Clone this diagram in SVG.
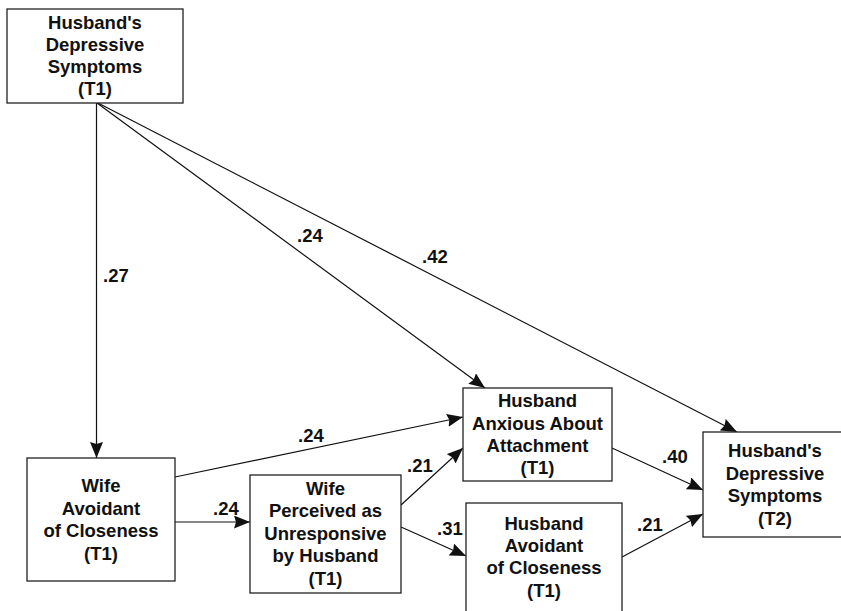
<svg xmlns="http://www.w3.org/2000/svg" width="841" height="611" viewBox="0 0 841 611">
<style>
.box{fill:#fff;stroke:#222;stroke-width:1.3}
.t{font-family:"Liberation Sans",Arial,sans-serif;font-weight:bold;font-size:18.5px;fill:#111;text-anchor:middle}
.lbl{font-family:"Liberation Sans",Arial,sans-serif;font-weight:bold;font-size:18.5px;fill:#111}
.c{stroke:#111;stroke-width:1.2;fill:none;marker-end:url(#ah)}
</style>
<defs>
<marker id="ah" markerUnits="userSpaceOnUse" markerWidth="18" markerHeight="14" refX="16" refY="6.5" orient="auto">
<path d="M0,0 L16,6.5 L0,13 L2,6.5 z" fill="#111"/>
</marker>
</defs>
<rect width="841" height="611" fill="#fff"/>
<g id="connectors">
<line class="c" x1="96.5" y1="103" x2="96.5" y2="458"/>
<line class="c" x1="97" y1="103" x2="485" y2="388"/>
<line class="c" x1="98" y1="103" x2="737" y2="432"/>
<line class="c" x1="175" y1="477" x2="463" y2="417"/>
<line class="c" x1="175" y1="522" x2="250" y2="522"/>
<line class="c" x1="401" y1="505" x2="463" y2="448"/>
<line class="c" x1="401" y1="527" x2="466" y2="556"/>
<line class="c" x1="612" y1="448" x2="703" y2="490"/>
<line class="c" x1="622" y1="557" x2="703" y2="514"/>
</g>
<g id="labels">
<text class="lbl" x="103" y="282">.27</text>
<text class="lbl" x="297" y="242">.24</text>
<text class="lbl" x="422" y="263">.42</text>
<text class="lbl" x="298" y="442">.24</text>
<text class="lbl" x="213" y="515">.24</text>
<text class="lbl" x="407" y="472">.21</text>
<text class="lbl" x="437" y="535">.31</text>
<text class="lbl" x="662" y="463">.40</text>
<text class="lbl" x="637" y="531">.21</text>
</g>
<g id="n1">
<rect class="box" x="7" y="9" width="176" height="94"/>
<text class="t" x="95" y="29">Husband's</text>
<text class="t" x="95" y="51">Depressive</text>
<text class="t" x="95" y="73">Symptoms</text>
<text class="t" x="95" y="95">(T1)</text>
</g>
<g id="n2">
<rect class="box" x="27" y="458" width="148" height="123"/>
<text class="t" x="101" y="492">Wife</text>
<text class="t" x="101" y="515">Avoidant</text>
<text class="t" x="101" y="537">of Closeness</text>
<text class="t" x="101" y="560">(T1)</text>
</g>
<g id="n3">
<rect class="box" x="250" y="475" width="151" height="118"/>
<text class="t" x="325.5" y="495">Wife</text>
<text class="t" x="325.5" y="517">Perceived as</text>
<text class="t" x="325.5" y="540">Unresponsive</text>
<text class="t" x="325.5" y="562">by Husband</text>
<text class="t" x="325.5" y="585">(T1)</text>
</g>
<g id="n4">
<rect class="box" x="463" y="388" width="149" height="93"/>
<text class="t" x="537.5" y="407">Husband</text>
<text class="t" x="537.5" y="430">Anxious About</text>
<text class="t" x="537.5" y="452">Attachment</text>
<text class="t" x="537.5" y="474">(T1)</text>
</g>
<g id="n5">
<rect class="box" x="466" y="503" width="156" height="115"/>
<text class="t" x="544" y="530">Husband</text>
<text class="t" x="544" y="552">Avoidant</text>
<text class="t" x="544" y="574">of Closeness</text>
<text class="t" x="544" y="597">(T1)</text>
</g>
<g id="n6">
<rect class="box" x="703" y="432" width="145" height="105"/>
<text class="t" x="775" y="457">Husband's</text>
<text class="t" x="775" y="480">Depressive</text>
<text class="t" x="775" y="502">Symptoms</text>
<text class="t" x="775" y="525">(T2)</text>
</g>
</svg>
